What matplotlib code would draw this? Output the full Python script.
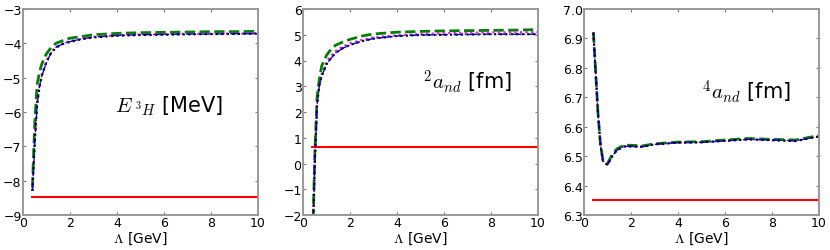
import numpy as np
import matplotlib
matplotlib.use('Agg')
import matplotlib.pyplot as plt

plt.rcParams['mathtext.fontset'] = 'cm'
plt.rcParams['font.family'] = 'DejaVu Sans'

# cutoff values (GeV)
lam = [0.4, 0.5, 0.6, 0.7, 0.8, 1.0, 1.2, 1.4, 1.7, 2.0, 2.5, 3.0, 4.0, 5.0, 6.0, 7.0, 8.0, 9.0, 10.0]

# triton binding energy
e3h_green = [-8.2, -6.3, -5.2, -4.85, -4.6, -4.3, -4.12, -4.0, -3.92, -3.85, -3.8, -3.75, -3.71, -3.69, -3.68, -3.67, -3.66, -3.66, -3.65]
e3h_magenta = [-8.3, -6.8, -5.7, -5.2, -4.9, -4.5, -4.25, -4.1, -4.0, -3.93, -3.86, -3.81, -3.76, -3.74, -3.73, -3.72, -3.72, -3.71, -3.7]
e3h_blue = [-8.3, -6.9, -5.8, -5.25, -4.95, -4.55, -4.27, -4.12, -4.01, -3.95, -3.87, -3.82, -3.77, -3.75, -3.74, -3.73, -3.73, -3.72, -3.72]
e3h_black = [-8.3, -6.9, -5.8, -5.3, -4.95, -4.55, -4.28, -4.13, -4.02, -3.96, -3.88, -3.83, -3.78, -3.76, -3.75, -3.74, -3.73, -3.73, -3.72]
e3h_exp = -8.48

# doublet scattering length
a2_green = [-3.3, 0.3, 2.6, 3.3, 3.8, 4.2, 4.45, 4.6, 4.72, 4.82, 4.95, 5.03, 5.1, 5.13, 5.15, 5.16, 5.17, 5.18, 5.2]
a2_magenta = [-3.5, 0.1, 2.4, 3.1, 3.5, 3.95, 4.2, 4.38, 4.55, 4.67, 4.8, 4.9, 4.98, 5.03, 5.06, 5.08, 5.09, 5.1, 5.1]
a2_blue = [-3.5, 0.0, 2.3, 3.05, 3.4, 3.85, 4.1, 4.3, 4.48, 4.6, 4.75, 4.85, 4.95, 4.99, 5.0, 5.01, 5.02, 5.02, 5.02]
a2_black = [-3.5, 0.0, 2.3, 3.05, 3.4, 3.85, 4.1, 4.3, 4.48, 4.6, 4.75, 4.85, 4.95, 4.99, 5.0, 5.01, 5.02, 5.02, 5.02]
a2_exp = 0.65

# quartet scattering length
a4_green = [6.92, 6.78, 6.64, 6.54, 6.49, 6.475, 6.505, 6.525, 6.537, 6.537, 6.535, 6.542, 6.548, 6.549, 6.555, 6.56, 6.557, 6.555, 6.57]
a4_magenta = [6.92, 6.78, 6.64, 6.54, 6.485, 6.47, 6.5, 6.52, 6.533, 6.533, 6.532, 6.54, 6.546, 6.547, 6.552, 6.557, 6.555, 6.552, 6.567]
a4_blue = a4_magenta
a4_black = [6.92, 6.78, 6.64, 6.54, 6.485, 6.47, 6.5, 6.52, 6.533, 6.533, 6.532, 6.54, 6.546, 6.547, 6.552, 6.557, 6.554, 6.551, 6.567]
a4_exp = 6.35

panels = [
    (e3h_green, e3h_magenta, e3h_blue, e3h_black, e3h_exp, (-9, -3), r'$E_{\ ^3H}$ [MeV]', (3.9, -5.8)),
    (a2_green, a2_magenta, a2_blue, a2_black, a2_exp, (-2, 6), r'$^2a_{nd}$ [fm]', (5.1, 3.2)),
    (a4_green, a4_magenta, a4_blue, a4_black, a4_exp, (6.3, 7.0), r'$^4a_{nd}$ [fm]', (5.0, 6.72)),
]
lefts = [23, 303, 584]

fig = plt.figure(figsize=(8.3, 2.51), dpi=100)
for (g, m, b, k, exp, ylim, label, pos), left in zip(panels, lefts):
    ax = fig.add_axes([left / 830, 1 - 216 / 251, 235 / 830, 206 / 251])
    ax.plot([lam[0], lam[-1]], [exp, exp], color='red', lw=1.5)
    ax.plot(lam, g, color='green', ls='--', lw=2)
    ax.plot(lam, m, color='magenta', ls=':', lw=1.5)
    ax.plot(lam, b, color='blue', ls='-.', lw=1)
    ax.plot(lam, k, color='black', ls=':', lw=1.5)
    ax.set_xlim(0, 10)
    ax.set_ylim(*ylim)
    ax.set_xlabel(r'$\Lambda$ [GeV]', fontsize=10, labelpad=0)
    ax.text(pos[0], pos[1], label, fontsize=15, va='center')
    ax.tick_params(direction='in', labelsize=9, top=True, right=True, length=2, pad=1, color='#777777')
    for s in ax.spines.values():
        s.set_color('#999999')
        s.set_linewidth(1.4)
    if ylim[0] == 6.3:
        ax.set_yticks(np.arange(6.3, 7.01, 0.1))
        ax.set_yticklabels(['6.3', '6.4', '6.5', '6.6', '6.7', '6.8', '6.9', '7.0'])

fig.savefig('out.png', dpi=100)
